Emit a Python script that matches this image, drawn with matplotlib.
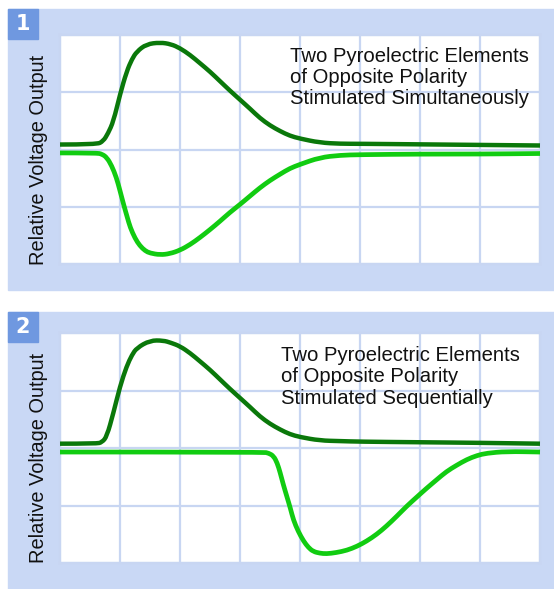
import matplotlib.pyplot as plt
from matplotlib.patches import Rectangle, PathPatch
from matplotlib.path import Path

# panel 1: simultaneous stimulation
x_dark1 = [0, 0.61, 0.72, 0.8, 0.89, 1.0, 1.11, 1.2, 1.28, 1.44, 1.67, 1.85, 2.0, 2.17, 2.33, 2.5, 2.67,
           2.83, 3.0, 3.17, 3.33, 3.5, 3.67, 3.83, 4.0, 4.33, 4.67, 5.0, 6.0, 7.0, 8.0]
y_dark1 = [2.087, 2.087, 2.145, 2.28, 2.49, 2.96, 3.36, 3.58, 3.71, 3.84, 3.87, 3.84, 3.77, 3.65, 3.51, 3.36, 3.19,
           3.03, 2.87, 2.71, 2.55, 2.42, 2.32, 2.24, 2.19, 2.12, 2.10, 2.10, 2.09, 2.08, 2.07]
x_light1 = [0, 0.61, 0.7, 0.78, 0.86, 0.94, 1.0, 1.06, 1.12, 1.17, 1.25, 1.33, 1.42, 1.5, 1.67, 1.83, 2.0, 2.17,
            2.33, 2.5, 2.67, 2.83, 3.0, 3.17, 3.33, 3.5, 3.67, 3.83, 4.0, 4.33, 4.67, 5.0, 6.0, 7.0, 8.0]
y_light1 = [1.94, 1.94, 1.92, 1.86, 1.72, 1.51, 1.28, 1.04, 0.82, 0.64, 0.45, 0.32, 0.23, 0.19, 0.16, 0.18, 0.24, 0.34,
            0.46, 0.60, 0.75, 0.90, 1.04, 1.19, 1.33, 1.46, 1.57, 1.67, 1.74, 1.86, 1.90, 1.91, 1.92, 1.92, 1.93]

# panel 2: sequential stimulation
x_dark2 = [0, 0.61, 0.7, 0.78, 0.89, 1.0, 1.11, 1.2, 1.28, 1.5, 1.72, 1.85, 2.0, 2.17, 2.33, 2.5, 2.67,
           2.83, 3.0, 3.17, 3.33, 3.5, 3.67, 3.83, 4.0, 4.33, 4.67, 5.0, 6.0, 7.0, 8.0]
y_dark2 = [2.075, 2.075, 2.1, 2.20, 2.61, 3.07, 3.42, 3.62, 3.74, 3.87, 3.87, 3.83, 3.77, 3.65, 3.51, 3.36, 3.19,
           3.03, 2.87, 2.71, 2.55, 2.42, 2.32, 2.24, 2.19, 2.13, 2.12, 2.11, 2.10, 2.09, 2.075]
x_light2 = [0, 3.39, 3.48, 3.56, 3.62, 3.67, 3.72, 3.78, 3.84, 3.89, 3.97, 4.06, 4.14, 4.22, 4.33, 4.44, 4.6,
            4.78, 4.95, 5.11, 5.28, 5.44, 5.61, 5.78, 5.95, 6.11, 6.28, 6.44, 6.61, 6.78, 6.95, 7.11, 7.44, 8.0]
y_light2 = [1.93, 1.93, 1.91, 1.86, 1.74, 1.57, 1.37, 1.16, 0.95, 0.75, 0.55, 0.38, 0.27, 0.20, 0.17, 0.16, 0.18,
            0.22, 0.29, 0.38, 0.50, 0.64, 0.81, 0.99, 1.15, 1.30, 1.45, 1.59, 1.70, 1.80, 1.87, 1.91, 1.94, 1.93]

labels = ['Two Pyroelectric Elements\nof Opposite Polarity\nStimulated Simultaneously',
          'Two Pyroelectric Elements\nof Opposite Polarity\nStimulated Sequentially']

bg = '#c9d8f5'
grid_col = '#c8d6f2'
box_col = '#6f98e0'
dark = '#0a780a'
light = '#11cc11'

W, H = 554, 589
fig = plt.figure(figsize=(W / 100, H / 100), dpi=100)
fig.patch.set_facecolor('white')


def fx(px):
    return px / W


def fy(py):
    return 1 - py / H


def smooth_curve(ax, xs, ys, color, lw):
    # read points used as quadratic bezier controls, matplotlib draws the curve
    verts = [(xs[0], ys[0])]
    codes = [Path.MOVETO]
    for i in range(1, len(xs) - 1):
        verts.append((xs[i], ys[i]))
        verts.append(((xs[i] + xs[i + 1]) / 2, (ys[i] + ys[i + 1]) / 2))
        codes += [Path.CURVE3, Path.CURVE3]
    verts.append((xs[-1], ys[-1]))
    codes.append(Path.LINETO)
    patch = PathPatch(Path(verts, codes), facecolor='none', edgecolor=color, linewidth=lw,
                      capstyle='butt', joinstyle='round', clip_on=False, zorder=3)
    ax.add_patch(patch)


panels = [
    # bg top, bg bottom, plot top, plot bottom, text x, text top
    (9, 290, 35, 264, 290, 47, '1', x_dark1, y_dark1, x_light1, y_light1),
    (312, 589, 333, 563, 281, 346, '2', x_dark2, y_dark2, x_light2, y_light2),
]

for i, (bt, bb, pt, pb, tx, ty, num, xd, yd, xl, yl) in enumerate(panels):
    fig.patches.append(Rectangle((fx(8), fy(bb)), fx(W - 8), (bb - bt) / H,
                                 transform=fig.transFigure, color=bg, zorder=-2))
    fig.patches.append(Rectangle((fx(8), fy(bt + 30)), fx(30), 30 / H,
                                 transform=fig.transFigure, color=box_col, zorder=-1))
    fig.text(fx(23), fy(bt + 15), num, color='white', fontsize=15, fontweight='bold',
             ha='center', va='center', family='DejaVu Sans')

    ax = fig.add_axes([fx(60), fy(pb), fx(480), (pb - pt) / H])
    ax.set_zorder(2)
    ax.set_facecolor('white')
    ax.set_xlim(0, 8)
    ax.set_ylim(0, 4)
    ax.set_xticks(range(9))
    ax.set_yticks(range(5))
    ax.tick_params(length=0, labelbottom=False, labelleft=False)
    ax.grid(True, color=grid_col, linewidth=1.6)
    ax.set_axisbelow(True)
    for s in ax.spines.values():
        s.set_color(grid_col)
        s.set_linewidth(1.6)
    smooth_curve(ax, xd, yd, dark, 3.2)
    smooth_curve(ax, xl, yl, light, 3.4)

    ax.text((tx - 60) / 480, 1 - (ty - pt) / (pb - pt), labels[i], transform=ax.transAxes,
            fontsize=14.6, family='Liberation Sans', ha='left', va='top', linespacing=1.15,
            color='#111111', zorder=1)
    fig.text(fx(39), fy((pt + pb) / 2 + 10), 'Relative Voltage Output', rotation=90,
             fontsize=14.4, family='Liberation Sans', ha='center', va='center', color='#111111')

fig.savefig('out.png', dpi=100)
